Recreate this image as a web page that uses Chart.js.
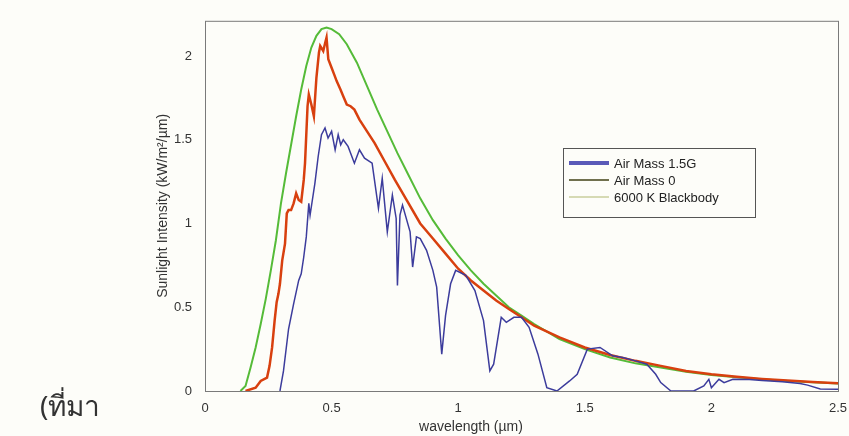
<!DOCTYPE html>
<html>
<head>
<meta charset="utf-8">
<script src="https://cdn.jsdelivr.net/npm/chart.js@4"></script>
<style>
  body { margin: 0; background: #fdfdf9; }
  #wrap { position: relative; width: 849px; height: 436px; }
  #src { position: absolute; left: 40px; top: 384px; font: 28px "Noto Sans", "DejaVu Sans", sans-serif; color: #333; }
</style>
</head>
<body>
<div id="wrap">
  <canvas id="spectrum"></canvas>
  <div id="src">(ที่มา</div>
</div>
<script>
// wavelength (um) / intensity (kW/m2/um)
var am15Wave = [0.296, 0.31, 0.33, 0.35, 0.37, 0.38, 0.39, 0.40, 0.41, 0.415, 0.42, 0.434, 0.447, 0.46, 0.474, 0.486, 0.50, 0.514, 0.526, 0.536, 0.546, 0.565, 0.59, 0.61, 0.63, 0.66, 0.685, 0.70, 0.72, 0.74, 0.755, 0.76, 0.77, 0.78, 0.81, 0.82, 0.835, 0.85, 0.875, 0.90, 0.915, 0.935, 0.95, 0.97, 0.99, 1.03, 1.066, 1.10, 1.125, 1.14, 1.17, 1.19, 1.22, 1.25, 1.28, 1.315, 1.35, 1.39, 1.44, 1.47, 1.51, 1.56, 1.61, 1.65, 1.70, 1.745, 1.78, 1.80, 1.84, 1.93, 1.97, 1.99, 2.0, 2.03, 2.05, 2.085, 2.15, 2.2, 2.28, 2.35, 2.38, 2.43, 2.5];
var am15Value = [0, 0.12, 0.37, 0.52, 0.66, 0.70, 0.80, 0.92, 1.12, 1.05, 1.10, 1.24, 1.40, 1.53, 1.57, 1.51, 1.55, 1.44, 1.53, 1.47, 1.50, 1.46, 1.36, 1.44, 1.39, 1.36, 1.09, 1.27, 0.95, 1.17, 1.03, 0.63, 1.05, 1.11, 0.95, 0.74, 0.92, 0.91, 0.84, 0.72, 0.62, 0.22, 0.45, 0.64, 0.72, 0.69, 0.60, 0.42, 0.12, 0.16, 0.44, 0.41, 0.44, 0.44, 0.38, 0.22, 0.02, 0.0, 0.06, 0.10, 0.25, 0.26, 0.21, 0.20, 0.18, 0.16, 0.10, 0.05, 0.0, 0.0, 0.03, 0.07, 0.02, 0.07, 0.05, 0.07, 0.068, 0.062, 0.055, 0.045, 0.035, 0.012, 0.01];

var am0Wave = [0.16, 0.20, 0.22, 0.245, 0.255, 0.265, 0.275, 0.283, 0.29, 0.296, 0.305, 0.316, 0.323, 0.33, 0.34, 0.35, 0.36, 0.37, 0.38, 0.39, 0.395, 0.405, 0.41, 0.42, 0.43, 0.44, 0.45, 0.455, 0.467, 0.475, 0.48, 0.487, 0.50, 0.51, 0.52, 0.535, 0.546, 0.56, 0.575, 0.59, 0.61, 0.64, 0.67, 0.71, 0.75, 0.80, 0.85, 0.90, 0.95, 1.00, 1.05, 1.10, 1.15, 1.20, 1.25, 1.30, 1.40, 1.50, 1.60, 1.70, 1.80, 1.90, 2.0, 2.1, 2.2, 2.3, 2.4, 2.5];
var am0Value = [0, 0.02, 0.06, 0.08, 0.15, 0.26, 0.42, 0.53, 0.58, 0.64, 0.78, 0.88, 1.06, 1.08, 1.08, 1.12, 1.18, 1.14, 1.13, 1.26, 1.36, 1.70, 1.77, 1.71, 1.64, 1.87, 2.02, 2.06, 2.03, 2.08, 2.11, 1.98, 1.93, 1.89, 1.85, 1.80, 1.76, 1.71, 1.70, 1.68, 1.62, 1.55, 1.48, 1.37, 1.26, 1.13, 1.00, 0.91, 0.82, 0.73, 0.66, 0.60, 0.54, 0.49, 0.44, 0.39, 0.32, 0.26, 0.215, 0.18, 0.15, 0.12, 0.10, 0.085, 0.072, 0.062, 0.053, 0.046];

var bbWave = [0.14, 0.16, 0.18, 0.20, 0.22, 0.24, 0.26, 0.28, 0.30, 0.32, 0.34, 0.36, 0.38, 0.40, 0.42, 0.44, 0.46, 0.48, 0.50, 0.53, 0.56, 0.60, 0.64, 0.68, 0.72, 0.76, 0.80, 0.85, 0.90, 0.95, 1.00, 1.05, 1.10, 1.15, 1.20, 1.25, 1.30, 1.40, 1.50, 1.60, 1.70, 1.80, 1.90, 2.00, 2.10, 2.20, 2.30, 2.40, 2.50];
var bbValue = [0, 0.03, 0.14, 0.26, 0.40, 0.55, 0.72, 0.90, 1.12, 1.30, 1.47, 1.64, 1.80, 1.94, 2.05, 2.12, 2.16, 2.17, 2.16, 2.13, 2.07, 1.96, 1.82, 1.68, 1.55, 1.42, 1.30, 1.15, 1.02, 0.91, 0.81, 0.72, 0.64, 0.57, 0.50, 0.45, 0.40, 0.31, 0.25, 0.20, 0.165, 0.14, 0.115, 0.095, 0.082, 0.070, 0.060, 0.052, 0.045];

var seriesNames = ['Air Mass 1.5G', 'Air Mass 0', '6000 K Blackbody'];
var xTicks = [0, 0.5, 1, 1.5, 2, 2.5];
var yTicks = [0, 0.5, 1, 1.5, 2];

function toPoints(xs, ys) {
  return xs.map(function(x, i) { return { x: x, y: ys[i] }; });
}

var FONT = '"Liberation Sans", Arial, sans-serif';

// frame, legend and x title
var extras = {
  id: 'extras',
  afterDatasetsDraw: function(chart) {
    var ctx = chart.ctx;
    var a = chart.chartArea;
    ctx.save();
    ctx.strokeStyle = '#7a7a7a';
    ctx.lineWidth = 1;
    ctx.strokeRect(a.left + 0.5, a.top + 0.5, a.right - a.left, a.bottom - a.top);

    // legend box
    var lx = 563, ly = 148, lw = 192, lh = 69;
    ctx.strokeStyle = '#555';
    ctx.strokeRect(lx + 0.5, ly + 0.5, lw, lh);
    var sample = ['#5a5ab8', '#70704e', '#d6dab4'];
    var widths = [4, 2, 2];
    ctx.font = '13px ' + FONT;
    ctx.textBaseline = 'middle';
    ctx.fillStyle = '#222';
    seriesNames.forEach(function(name, i) {
      var y = ly + 15 + i * 17;
      ctx.strokeStyle = sample[i];
      ctx.lineWidth = widths[i];
      ctx.beginPath();
      ctx.moveTo(lx + 6, y);
      ctx.lineTo(lx + 46, y);
      ctx.stroke();
      ctx.fillText(name, lx + 51, y + 1);
    });

    ctx.font = '14px ' + FONT;
    ctx.textAlign = 'center';
    ctx.fillStyle = '#333';
    ctx.fillText('wavelength (\u00b5m)', 471, 427);
    ctx.restore();
  }
};

new Chart(document.getElementById('spectrum'), {
  type: 'scatter',
  data: {
    datasets: [{
      label: seriesNames[0],
      data: toPoints(am15Wave, am15Value),
      borderColor: '#3c3c9c',
      borderWidth: 1.5
    }, {
      label: seriesNames[1],
      data: toPoints(am0Wave, am0Value),
      borderColor: '#d8400f',
      borderWidth: 2.5
    }, {
      label: seriesNames[2],
      data: toPoints(bbWave, bbValue),
      borderColor: '#55bb38',
      borderWidth: 2
    }]
  },
  options: {
    responsive: true,
    maintainAspectRatio: false,
    animation: false,
    showLine: true,
    elements: { point: { radius: 0 }, line: { tension: 0 } },
    layout: { padding: { left: 0, top: 11, right: 11, bottom: 0 } },
    plugins: { legend: { display: false }, tooltip: { enabled: false } },
    scales: {
      x: {
        type: 'linear', min: 0, max: 2.5,
        grid: { display: false, drawTicks: false },
        border: { display: false },
        afterBuildTicks: function(s) { s.ticks = xTicks.map(function(v) { return { value: v }; }); },
        afterFit: function(s) { s.height = 45; s.paddingRight = 0; s.paddingLeft = 0; },
        ticks: { padding: 10, maxRotation: 0, color: '#333', font: { family: FONT, size: 13 },
                 callback: function(v) { return String(v); } }
      },
      y: {
        type: 'linear', min: 0, max: 2.21,
        grid: { display: false, drawTicks: false },
        border: { display: false },
        afterBuildTicks: function(s) { s.ticks = yTicks.map(function(v) { return { value: v }; }); },
        afterFit: function(s) { s.width = 205; },
        ticks: { padding: 13, color: '#333', font: { family: FONT, size: 13 },
                 callback: function(v) { return String(v); } },
        title: { display: true, text: 'Sunlight Intensity (kW/m\u00b2/\u00b5m)', color: '#333',
                 font: { family: FONT, size: 14 }, padding: { top: 155, bottom: 0 } }
      }
    }
  },
  plugins: [extras]
});
</script>
</body>
</html>
